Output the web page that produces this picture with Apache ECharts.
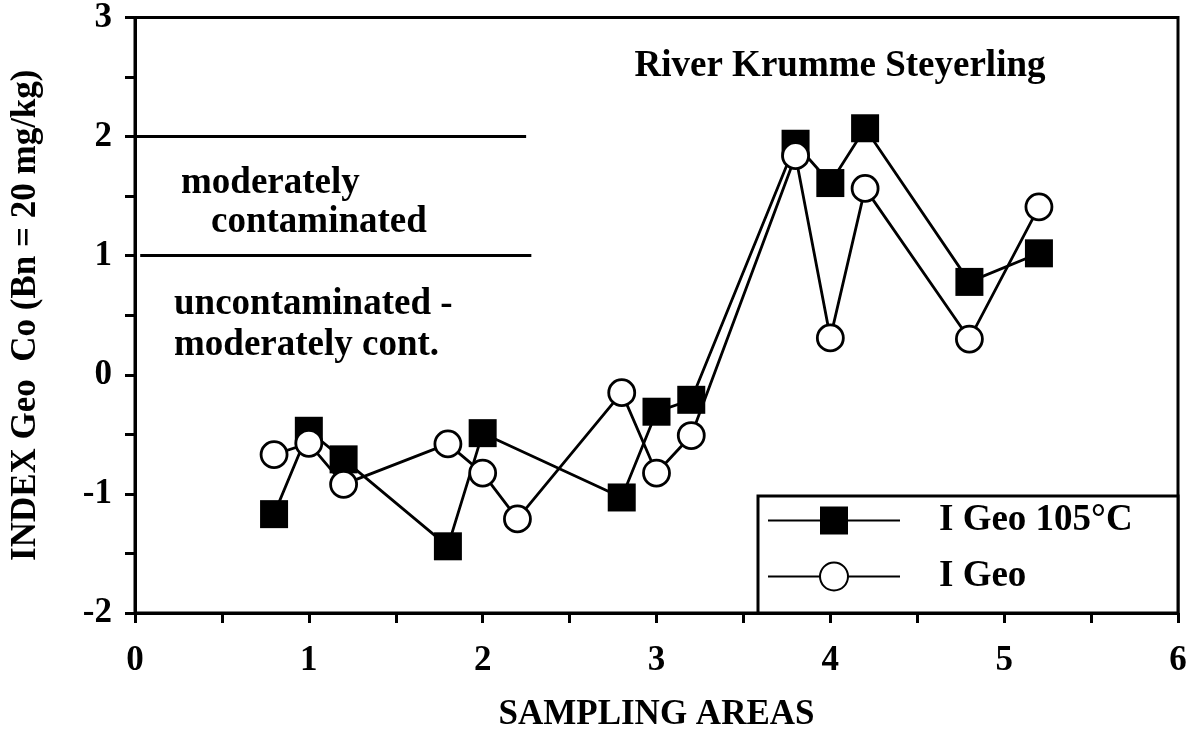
<!DOCTYPE html>
<html>
<head>
<meta charset="utf-8">
<script src="https://cdn.jsdelivr.net/npm/echarts@6/dist/echarts.min.js"></script>
<style>
html,body{margin:0;padding:0;background:#fff;}
#chart{width:1195px;height:740px;}
</style>
</head>
<body>
<div id="chart"></div>
<script>
// ---- data ----
var xHeated = [0.8, 1.0, 1.2, 1.8, 2.0, 2.8, 3.0, 3.2, 3.8, 4.0, 4.2, 4.8, 5.2];
var yHeated = [-1.17, -0.47, -0.71, -1.44, -0.49, -1.03, -0.31, -0.21, 1.94, 1.61, 2.07, 0.78, 1.02];
var xRaw = [0.8, 1.0, 1.2, 1.8, 2.0, 2.2, 2.8, 3.0, 3.2, 3.8, 4.0, 4.2, 4.8, 5.2];
var yRaw = [-0.67, -0.575, -0.92, -0.58, -0.825, -1.21, -0.15, -0.825, -0.51, 1.84, 0.31, 1.565, 0.30, 1.41];
var seriesNames = ['I Geo 105°C', 'I Geo'];
var classLines = [
  {y: 2, x0: 0, x1: 2.25},
  {y: 1, x0: 0.03, x1: 2.28}
];
var titleText = 'River Krumme Steyerling';
var xName = 'SAMPLING AREAS';
var yName = 'INDEX Geo  Co (Bn = 20 mg/kg)';

var FONT = '"Liberation Serif", "Times New Roman", serif';

function zip(xs, ys) { return xs.map(function (x, i) { return [x, ys[i]]; }); }

var chart = echarts.init(document.getElementById('chart'), null, {renderer: 'canvas'});

function intLabel(v) { return Math.abs(v - Math.round(v)) < 1e-9 ? String(Math.round(v)) : ''; }

var option = {
  backgroundColor: '#fff',
  animation: false,
  title: {
    text: titleText,
    left: 835, top: 43, textAlign: 'center',
    textStyle: {fontFamily: FONT, fontWeight: 'bold', fontSize: 37, color: '#000'}
  },
  grid: {left: 133, right: 17, top: 16, bottom: 127, show: true, borderColor: '#000', borderWidth: 3, backgroundColor: 'transparent'},
  xAxis: {
    type: 'value', min: 0, max: 6, interval: 0.5,
    name: xName, nameLocation: 'middle', nameGap: 84,
    nameTextStyle: {fontFamily: FONT, fontWeight: 'bold', fontSize: 35, color: '#000'},
    axisLine: {show: true, onZero: false, lineStyle: {color: '#000', width: 3}},
    axisTick: {show: true, inside: false, length: 10, lineStyle: {color: '#000', width: 3}},
    axisLabel: {formatter: intLabel, margin: 30, fontFamily: FONT, fontWeight: 'bold', fontSize: 35, color: '#000'},
    splitLine: {show: false}
  },
  yAxis: {
    type: 'value', min: -2, max: 3, interval: 0.5,
    name: yName, nameLocation: 'middle', nameGap: 92,
    nameTextStyle: {fontFamily: FONT, fontWeight: 'bold', fontSize: 35, color: '#000'},
    axisLine: {show: true, onZero: false, lineStyle: {color: '#000', width: 3}},
    axisTick: {show: true, inside: false, length: 10, lineStyle: {color: '#000', width: 3}},
    axisLabel: {formatter: intLabel, margin: 23, fontFamily: FONT, fontWeight: 'bold', fontSize: 35, color: '#000'},
    splitLine: {show: false}
  },
  legend: {
    orient: 'vertical', left: 767, top: 502, padding: 0,
    itemWidth: 132, itemHeight: 35, itemGap: 19,
    data: seriesNames,
    textStyle: {fontFamily: FONT, fontWeight: 'bold', fontSize: 37, color: '#000', padding: [0, 0, 0, 34]},
    selectedMode: false, z: 10
  },
  graphic: [
    {type: 'rect', shape: {x: 758, y: 496, width: 420, height: 117}, style: {fill: '#fff', stroke: '#000', lineWidth: 3}, z: 5},
    {type: 'text', style: {text: 'moderately', x: 181, y: 183, font: 'bold 37px ' + FONT, fill: '#000', verticalAlign: 'middle'}},
    {type: 'text', style: {text: 'contaminated', x: 211, y: 222, font: 'bold 37px ' + FONT, fill: '#000', verticalAlign: 'middle'}},
    {type: 'text', style: {text: 'uncontaminated -', x: 174, y: 304, font: 'bold 37px ' + FONT, fill: '#000', verticalAlign: 'middle'}},
    {type: 'text', style: {text: 'moderately cont.', x: 174, y: 345, font: 'bold 37px ' + FONT, fill: '#000', verticalAlign: 'middle'}}
  ],
  series: [
    {
      name: seriesNames[0], type: 'line', data: zip(xHeated, yHeated),
      symbol: 'rect', symbolSize: 28,
      lineStyle: {color: '#000', width: 2.8},
      itemStyle: {color: '#000', borderColor: '#000', borderWidth: 0},
      z: 2,
      markLine: {
        silent: true, symbol: 'none', label: {show: false},
        lineStyle: {color: '#000', width: 2.8, type: 'solid'},
        data: classLines.map(function (l) { return [{coord: [l.x0, l.y]}, {coord: [l.x1, l.y]}]; })
      }
    },
    {
      name: seriesNames[1], type: 'line', data: zip(xRaw, yRaw),
      symbol: 'circle', symbolSize: 26,
      lineStyle: {color: '#000', width: 2.8},
      itemStyle: {color: '#fff', borderColor: '#000', borderWidth: 2.8},
      z: 3
    }
  ]
};
chart.setOption(option);
</script>
</body>
</html>
